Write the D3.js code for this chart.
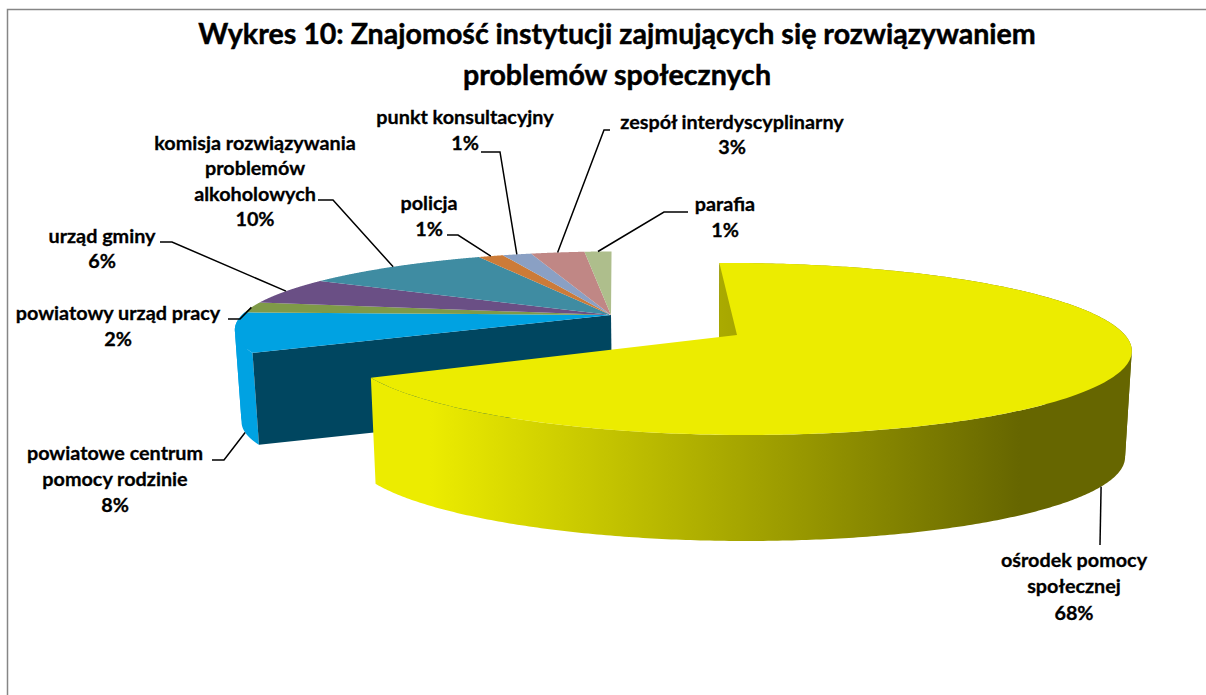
<!DOCTYPE html>
<html><head><meta charset="utf-8">
<script src="https://cdn.jsdelivr.net/npm/d3@7/dist/d3.min.js"></script>
<style>html,body{margin:0;padding:0;background:#fff;overflow:hidden}svg{display:block}
text{font-family:Lato,"Open Sans",sans-serif;font-weight:700;fill:#000;stroke:#000;stroke-width:0.3px}</style>
</head><body><svg id="c" width="1206" height="695"></svg>
<script>
const categories = ["ośrodek pomocy społecznej","powiatowe centrum pomocy rodzinie","powiatowy urząd pracy","urząd gminy","komisja rozwiązywania problemów alkoholowych","policja","punkt konsultacyjny","zespół interdyscyplinarny","parafia"];
const values = [67.7,8.4,2.2,5.5,9.5,1.25,1.45,2.7,1.36];
const colors = ["#ECEC00","#00A2E2","#7F9A48","#6A4F85","#3F8CA2","#CC7B38","#8AA0C4","#C08785","#AEBE8C"];
const titleLines = ["Wykres 10: Znajomość instytucji zajmujących się rozwiązywaniem","problemów społecznych"];
const labelLines = [["ośrodek pomocy","społecznej"],["powiatowe centrum","pomocy rodzinie"],["powiatowy urząd pracy"],["urząd gminy"],["komisja rozwiązywania","problemów","alkoholowych"],["policja"],["punkt konsultacyjny"],["zespół interdyscyplinarny"],["parafia"]];
// layout: label centre x, first line y, leader elbow points
const labelLayout = [
 {x:1074,y:560,dy:26.5,leader:[[1100,545]],z:1},
 {x:115,y:453,dy:26,leader:[[224,460],[212,460]],z:1,angle:251},
 {x:118,y:313,dy:26,leader:[[240,319],[228,319]],z:0},
 {x:102,y:236,dy:25,leader:[[172,242],[160,242]],z:0},
 {x:255,y:143,dy:25.5,leader:[[333,200],[318,200]],z:0},
 {x:429,y:203,dy:26,leader:[[458,235],[447,235]],z:0},
 {x:465,y:117,dy:26,leader:[[500,152],[481,152]],z:0},
 {x:732,y:122,dy:25,leader:[[604,130],[610,130]],z:0},
 {x:725,y:204,dy:26,leader:[[664,212],[688,212]],z:0}
];
const vpx=684,persp=0.163,rad=Math.PI/180;
const svg=d3.select("#c");
const defs=svg.append("defs");
const grad=defs.append("linearGradient").attr("id","yw").attr("gradientUnits","userSpaceOnUse")
 .attr("x1",430).attr("x2",1020).attr("y1",0).attr("y2",0);
grad.append("stop").attr("offset",0).attr("stop-color","#ECEC00");
grad.append("stop").attr("offset",1).attr("stop-color","#666600");

const pie=d3.pie().sort(null).startAngle(-1.75*rad).endAngle((360-1.75)*rad);
const arcs=pie(values);
const groups={main:{cx:737,cy:335,rx:388,ry:83.7,h:106},rest:{cx:611,cy:315,rx:369,ry:74,h:92}};
function proj(g,t,r,z){
 const w=1/(1+persp*r*Math.cos(t)), s=1-0.015*z;
 return [vpx+((g.cx-vpx)+r*g.rx*Math.sin(t))*w*s, g.cy-r*g.ry*Math.cos(t)*w+z*g.h];
}
const line=d3.line();
const samples=(a,b,n=200)=>d3.range(0,n+1).map(i=>a+(b-a)*i/n);
function topFace(g,a,b){return line([proj(g,0,0,0),...samples(a,b).map(t=>proj(g,t,1,0))])+"Z";}
// outer wall: one polygon per run between silhouette folds, so the winding never cancels
function band(parent,g,a,b,fill){
 const s=samples(a,b,400); let runs=[[s[0]]],dir=0;
 d3.pairs(s).forEach(([p,q])=>{
  const d=Math.sign(proj(g,q,1,0)[0]-proj(g,p,1,0)[0]);
  if(dir&&d&&d!==dir) runs.push([p]);
  if(d) dir=d;
  runs[runs.length-1].push(q);
 });
 parent.append("g").selectAll("path").data(runs).join("path")
  .attr("d",r=>line([...r.map(t=>proj(g,t,1,0)),...r.slice().reverse().map(t=>proj(g,t,1,1))])+"Z")
  .attr("fill",fill);
}
function cut(g,t){return line([proj(g,0,0,0),proj(g,t,1,0),proj(g,t,1,1),proj(g,0,0,1)])+"Z";}

const gp=svg.append("g");
// far cut wall of the big slice
gp.append("path").attr("d",cut(groups.main,arcs[0].startAngle)).attr("fill","#666600");
// rest of the pie: walls
const blue=arcs[1];
band(gp,groups.rest,blue.startAngle,blue.endAngle,colors[1]);
gp.append("path").attr("d",cut(groups.rest,blue.startAngle)).attr("fill","#004660");
gp.append("g").selectAll("path").data(arcs.slice(1)).join("path")
 .attr("d",d=>topFace(groups.rest,d.startAngle,d.endAngle))
 .attr("fill",d=>colors[d.index]);
// big slice
band(gp,groups.main,arcs[0].startAngle,arcs[0].endAngle,"url(#yw)");
gp.append("path").attr("d",topFace(groups.main,arcs[0].startAngle,arcs[0].endAngle)).attr("fill",colors[0]);

// border
svg.append("path").attr("d","M7.5,700V9.5H1210").attr("fill","none").attr("stroke","#868686").attr("stroke-width",1.5);

// title
svg.append("g").selectAll("text").data(titleLines).join("text")
 .attr("x",617).attr("y",(d,i)=>44+i*41).attr("text-anchor","middle").attr("font-size",28.6).style("stroke-width","0.45px").text(d=>d);

// leaders and labels
arcs.forEach((a,i)=>{
 const L=labelLayout[i], g=i===0?groups.main:groups.rest;
 const mid=L.angle!==undefined?L.angle*rad:(a.startAngle+a.endAngle)/2;
 svg.append("path").attr("d",line([proj(g,mid,1,L.z),...L.leader])).attr("fill","none").attr("stroke","#000").attr("stroke-width",1.5);
 const lines=[...labelLines[i],d3.format(".0f")(values[i])+"%"];
 svg.append("g").selectAll("text").data(lines).join("text")
  .attr("x",L.x).attr("y",(d,k)=>L.y+k*L.dy).attr("dy","0.35em").attr("text-anchor","middle")
  .attr("font-size",19.8).text(d=>d);
});
</script></body></html>
